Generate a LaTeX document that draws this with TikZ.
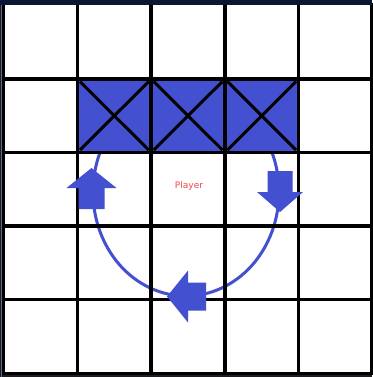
\documentclass[tikz,border=0pt]{standalone}
\usepackage{fontspec}
\setmainfont{DejaVu Sans}
\definecolor{framedark}{RGB}{28,28,34}
\definecolor{navyband}{RGB}{10,22,50}
\definecolor{edgegray}{RGB}{95,105,135}
\definecolor{cellblue}{RGB}{67,80,207}
\definecolor{playerred}{RGB}{238,70,80}
\begin{document}
\begin{tikzpicture}[x=1pt,y=-1pt,
  gridline/.style={line width=3.6pt, black},
  cross/.style={line width=3pt, black},
  pathline/.style={line width=3pt, cellblue},
  blockarrow/.style={fill=cellblue, draw=none}]
\useasboundingbox (0,0) rectangle (372,377);
\fill[framedark] (0,0) rectangle (372,377);
\fill[white] (5,5) rectangle (370.5,372);
% circular path
\draw[pathline] (186,192) ++(202.6:93 and 104) arc[start angle=202.6, end angle=-22.6, x radius=93, y radius=104];
% blocked cells
\fill[cellblue] (77.5,79) rectangle (298.6,152.5);
\foreach \xa/\xb in {77.5/151.2, 151.2/224.9, 224.9/298.6} {
  \draw[cross] (\xa+2.5,81.5) -- (\xb-2.5,150);
  \draw[cross] (\xb-2.5,81.5) -- (\xa+2.5,150);
}
% grid
\foreach \x in {3.6,77.5,151.2,224.9,298.6} \draw[gridline] (\x,3) -- (\x,375);
\draw[line width=3pt, black] (371.5,3) -- (371.5,375);
\foreach \y in {79,152.5,226,299.5,373.5} \draw[gridline] (2,\y) -- (372,\y);
\fill[navyband] (0,0) rectangle (372,5);
\fill[edgegray] (0.8,5) rectangle (1.8,377);
% block arrows
\fill[blockarrow] (91.5,168) -- (116.5,188) -- (104.5,188) -- (104.5,209) -- (78.5,209) -- (78.5,188) -- (66.5,188) -- cycle;
\fill[blockarrow] (280,212) -- (303,192) -- (292.5,192) -- (292.5,171) -- (267.5,171) -- (267.5,192) -- (257,192) -- cycle;
\fill[blockarrow] (167,296.5) -- (188,270.5) -- (188,282.5) -- (206,282.5) -- (206,310.5) -- (188,310.5) -- (188,322.5) -- cycle;
% label
\node[text=playerred, font=\fontsize{9}{10}\selectfont, inner sep=0pt] (player) at (189,186) {Player};
\end{tikzpicture}
\end{document}
